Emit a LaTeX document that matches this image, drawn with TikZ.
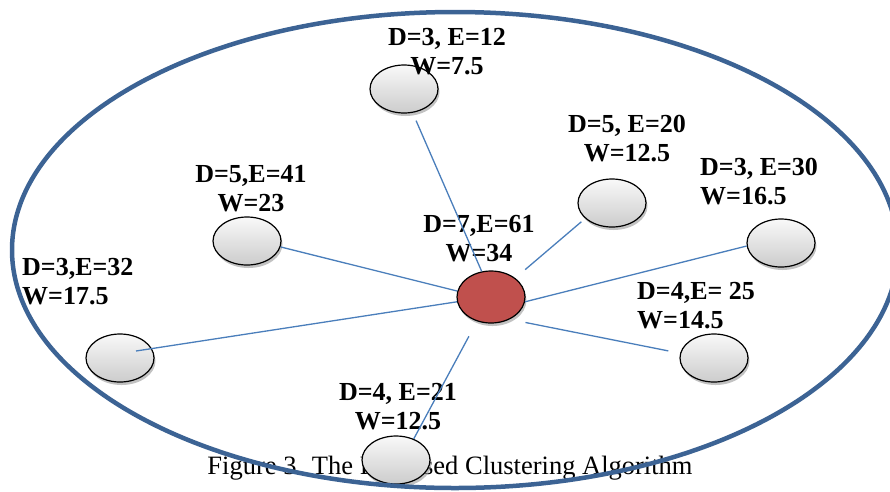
\documentclass[tikz,border=0pt]{standalone}
\usepackage{fontspec}
\setmainfont{Liberation Serif}
\usetikzlibrary{shapes.geometric,shadows}
\definecolor{rimblue}{HTML}{3C6394}
\definecolor{linkblue}{HTML}{4A7EBB}
\definecolor{headred}{HTML}{C0504D}

\begin{document}
\begin{tikzpicture}[x=1pt,y=-1pt,
  member/.style={ellipse,draw,line width=1.2pt,minimum width=68pt,minimum height=48pt,inner sep=0pt,
    drop shadow={shadow xshift=1.5pt,shadow yshift=-3pt,fill=gray!80,opacity=0.6}},
  info/.style={font=\bfseries\fontsize{26}{29}\selectfont,inner sep=0pt},
  link/.style={draw=linkblue,line width=1.3pt}]
  \path[use as bounding box,clip] (0,0) rectangle (890,491);
  \node[font=\fontsize{26.5}{30}\selectfont,anchor=base,inner sep=0pt] (caption) at (450,474)
    {Figure 3. The Proposed Clustering Algorithm};
  % cluster members and head
  \foreach \name/\x/\y in {t/404/89,ur/612/203,r/781/243,lr/714/358,b/396/460,ll/120/358,lu/247/241}{
    \node[member,top color=gray!5,bottom color=gray!40] (\name) at (\x,\y) {};
  }
  \node[member,fill=headred,minimum height=52pt] (c) at (491,297) {};
  % labels
  \node[info,anchor=north,align=center] (tLabel) at (447,28) {D=3, E=12\\W=7.5};
  \node[info,anchor=north,align=center] (urLabel) at (627,115) {D=5, E=20\\W=12.5};
  \node[info,anchor=north west,align=left] (rLabel) at (700,158) {D=3, E=30\\W=16.5};
  \node[info,anchor=north west,align=left] (lrLabel) at (637,282) {D=4,E= 25\\W=14.5};
  \node[info,anchor=north,align=center] (cLabel) at (479,215) {D=7,E=61\\W=34};
  \node[info,anchor=north,align=center] (luLabel) at (251,165) {D=5,E=41\\W=23};
  \node[info,anchor=north west,align=left] (llLabel) at (22,258) {D=3,E=32\\W=17.5};
  \node[info,anchor=north,align=center] (bLabel) at (398,383) {D=4, E=21\\W=12.5};
  % links to the head
  \draw[link,shorten <=8.5pt] (t.-70) -- (c.110);
  \draw[link,shorten <=13pt,shorten >=5pt] (c.38) -- (ur.-150);
  \draw[link] (c.-8) -- (r.-175);
  \draw[link,shorten <=16pt,shorten >=12pt] (c.-50) -- (lr.172);
  \draw[link] (lu.-10) -- (c.170);
  \draw[link] (c.188) -- ([shift={(16,-7)}]ll.center);
  \draw[link,shorten <=17pt] (c.-120) -- (b.50);
  % cluster boundary
  \draw[rimblue,line width=4.5pt] (455,250) ellipse [x radius=443pt,y radius=238pt];
\end{tikzpicture}
\end{document}
